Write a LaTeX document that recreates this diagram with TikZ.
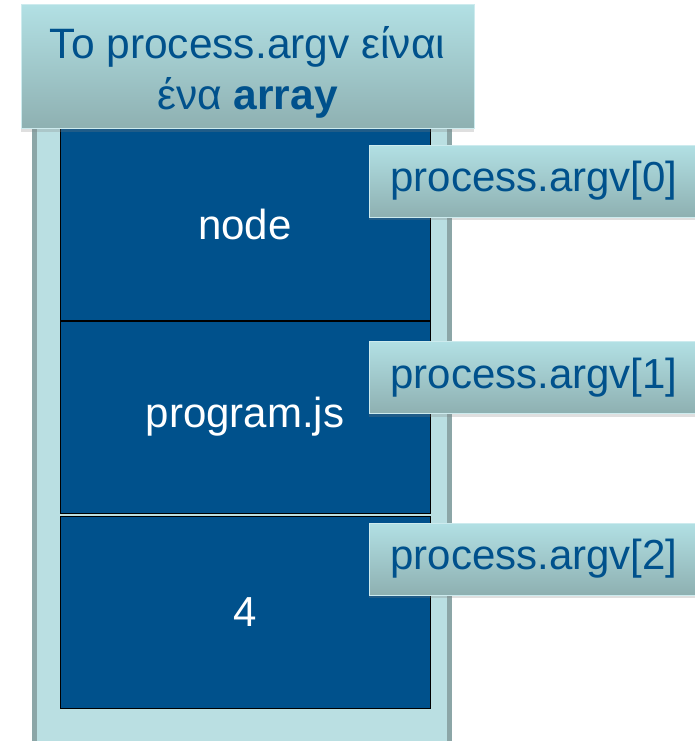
\documentclass[tikz,border=0pt]{standalone}
\usepackage{fontspec}
\setmainfont{Liberation Sans}
\usepackage{xcolor}
\usetikzlibrary{shadows}
\definecolor{argv_blue}{HTML}{00518C}
\definecolor{pale_teal}{HTML}{BADFE2}
\definecolor{grey_teal}{HTML}{8CA6A7}
\definecolor{top_teal}{HTML}{B2E0E4}
\definecolor{bottom_teal}{HTML}{8EB0B1}
\definecolor{rim_teal}{HTML}{CDEBEE}

\begin{document}
\begin{tikzpicture}[x=1pt,y=-1pt,
    cell/.style={draw=black,line width=1pt,fill=argv_blue,text=white,
        minimum width=370pt,minimum height=192pt,inner sep=0pt,
        font=\fontsize{42}{50}\selectfont},
    tag/.style={draw=rim_teal,line width=1pt,top color=top_teal,bottom color=bottom_teal,
        text=argv_blue,minimum width=330pt,minimum height=72pt,inner sep=0pt,
        font=\fontsize{42}{50}\selectfont,
        drop shadow={opacity=0.25,shadow xshift=0pt,shadow yshift=-3pt}}]

    \clip (0,0) rectangle (695,741);

    % Le conteneur du tableau
    \draw[line width=5pt,draw=grey_teal,fill=pale_teal] (34.5,100) rectangle (449.5,780);

    % Les cases du tableau
    \node[cell] (arg0) at (245,224.5) {node};
    \node[cell] (arg1) at (245,417) {program.js};
    \node[cell] (arg2) at (245,612) {4};

    % Le titre
    \node[tag,minimum width=453pt,minimum height=124pt,align=center,
        font=\fontsize{42.5}{51}\selectfont] (title) at (247.5,67)
        {\rule{0pt}{42pt}To process.argv είναι\\ένα \textbf{array}};

    % Les étiquettes
    \node[tag] (idx0) at (534,181) {process.argv[0]};
    \node[tag] (idx1) at (534,377.5) {process.argv[1]};
    \node[tag] (idx2) at (534,559) {process.argv[2]};
\end{tikzpicture}
\end{document}
